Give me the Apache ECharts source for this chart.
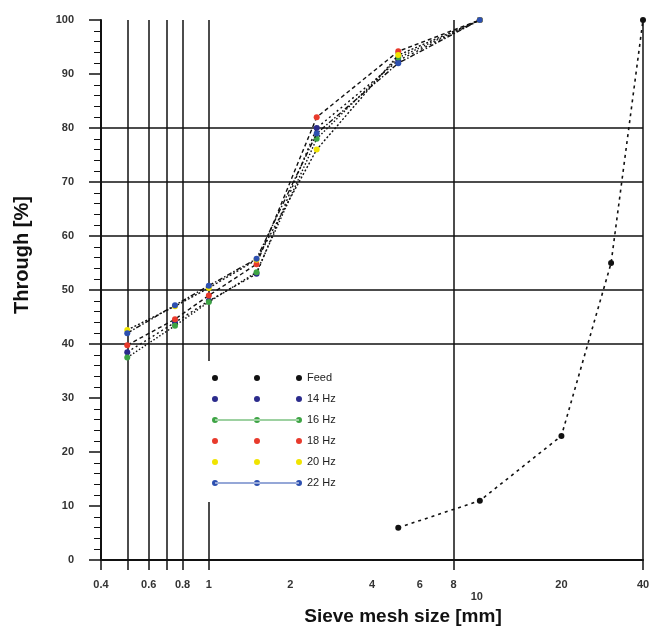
<!DOCTYPE html>
<html>
<head>
<meta charset="utf-8">
<script src="https://cdn.jsdelivr.net/npm/echarts@6/dist/echarts.min.js"></script>
<style>
  html, body { margin: 0; padding: 0; background: #fff; }
  #chart { width: 660px; height: 631px; }
</style>
</head>
<body>
<div id="chart"></div>
<script>
// sieve sizes [mm]
const sizes = [0.5, 0.75, 1, 1.5, 2.5, 5, 10];
const feedSizes = [5, 10, 20, 30.5, 40];

// passing [%]
const feed = [6, 11, 23, 55, 100];
const hz14 = [38.5, 44, 48, 53, 80, 92.5, 100];
const hz16 = [37.5, 43.4, 47.8, 53.3, 78, 93, 100];
const hz18 = [39.8, 44.6, 49, 54.8, 82, 94.2, 100];
const hz20 = [42.6, 47, 50.4, 55.6, 76, 93.5, 100];
const hz22 = [42, 47.2, 50.8, 55.8, 79, 92, 100];

const xLabels = [0.4, 0.6, 0.8, 1, 2, 4, 6, 8, 10, 20, 40];
const xTicks = [0.4, 0.5, 0.6, 0.7, 0.8, 1, 8, 40];

const names = ['Feed', '14 Hz', '16 Hz', '18 Hz', '20 Hz', '22 Hz'];
const colors = ['#111111', '#2b2b8c', '#3da444', '#e83a2c', '#f0e400', '#2d50b0'];

// legend icons: three dots, optionally joined by a line
const dots = 'M0,3a3,3 0 1,0 6,0a3,3 0 1,0 -6,0Z M42,3a3,3 0 1,0 6,0a3,3 0 1,0 -6,0Z M84,3a3,3 0 1,0 6,0a3,3 0 1,0 -6,0Z';
const dotsLine = dots + ' M3,2.5L87,2.5L87,3.5L3,3.5Z';

const chart = echarts.init(document.getElementById('chart'));

function pts(xs, ys) {
  return xs.map((x, i) => [x, ys[i]]);
}

function sieveSeries(idx, ys, dash) {
  return {
    name: names[idx],
    type: 'line',
    data: pts(sizes, ys),
    symbol: 'circle',
    symbolSize: 6,
    itemStyle: { color: colors[idx], borderWidth: 0 },
    lineStyle: { color: '#111', width: 1.4, type: dash },
    emphasis: { disabled: true },
    z: 3 + idx
  };
}

const option = {
  animation: false,
  backgroundColor: '#fff',
  grid: { left: 101, right: 17, top: 20, bottom: 69 },
  legend: {
    orient: 'vertical',
    left: 203,
    top: 361,
    padding: [10, 30, 12, 9],
    backgroundColor: '#fff',
    itemWidth: 90,
    itemHeight: 6,
    itemGap: 7,
    itemStyle: { borderWidth: 0 },
    textStyle: { fontFamily: 'Liberation Sans, Arial', fontSize: 11, color: '#222', lineHeight: 14 },
    data: names.map((n, i) => ({ name: n, icon: 'path://' + ((i === 2 || i === 5) ? dotsLine : dots) }))
  },
  xAxis: {
    type: 'log',
    logBase: 10,
    min: 0.4,
    max: 40,
    name: 'Sieve mesh size [mm]',
    nameLocation: 'middle',
    nameGap: 40,
    nameTextStyle: { fontFamily: 'Liberation Sans, Arial', fontSize: 19, fontWeight: 'bold', color: '#111', padding: [0, 0, 0, 62] },
    axisLine: { lineStyle: { color: '#111', width: 2 } },
    axisTick: { customValues: xTicks, length: 10, lineStyle: { color: '#111', width: 1.5 } },
    minorTick: { show: false },
    axisLabel: {
      customValues: xLabels,
      margin: 19,
      fontFamily: 'Liberation Sans, Arial',
      fontSize: 11,
      fontWeight: 'bold',
      color: '#333',
      formatter: v => (v === 10 ? '{low|10}' : String(v)),
      rich: { low: { padding: [12, 6, 0, 0], fontSize: 11, fontWeight: 'bold', color: '#333' } }
    },
    splitLine: { show: true, lineStyle: { color: '#111', width: 1.5 } }
  },
  yAxis: {
    type: 'value',
    min: 0,
    max: 100,
    interval: 10,
    name: 'Through [%]',
    nameLocation: 'middle',
    nameGap: 69,
    nameTextStyle: { fontFamily: 'Liberation Sans, Arial', fontSize: 20, fontWeight: 'bold', color: '#111', padding: [0, 0, 0, 70] },
    axisLine: { show: true, lineStyle: { color: '#111', width: 2 } },
    axisTick: { show: true, length: 12, lineStyle: { color: '#111', width: 1.5 } },
    minorTick: { show: true, splitNumber: 5, length: 7, lineStyle: { color: '#111', width: 1 } },
    axisLabel: { margin: 27, fontFamily: 'Liberation Sans, Arial', fontSize: 11, fontWeight: 'bold', color: '#333' },
    splitLine: {
      show: true,
      lineStyle: {
        width: 1.5,
        color: ['rgba(0,0,0,0)', 'rgba(0,0,0,0)', 'rgba(0,0,0,0)', 'rgba(0,0,0,0)',
                '#111', '#111', '#111', '#111', '#111', 'rgba(0,0,0,0)', 'rgba(0,0,0,0)']
      }
    }
  },
  series: [
    {
      name: 'Feed',
      type: 'line',
      data: pts(feedSizes, feed),
      symbol: 'circle',
      symbolSize: 6,
      itemStyle: { color: colors[0], borderWidth: 0 },
      lineStyle: { color: '#111', width: 1.6, type: [3, 4] },
      emphasis: { disabled: true },
      z: 3
    },
    sieveSeries(1, hz14, [2, 3]),
    sieveSeries(2, hz16, [1.5, 2]),
    sieveSeries(3, hz18, [4, 3]),
    sieveSeries(4, hz20, [2, 2]),
    sieveSeries(5, hz22, [5, 2, 1.5, 2])
  ]
};

chart.setOption(option);
</script>
</body>
</html>
